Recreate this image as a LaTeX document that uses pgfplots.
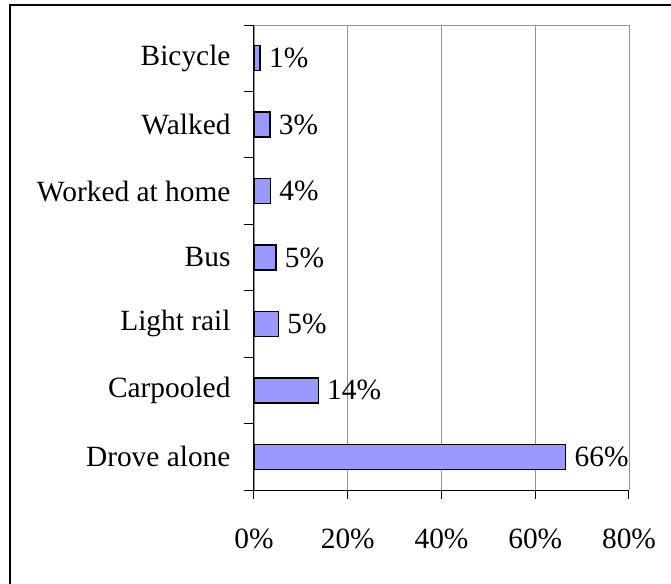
\documentclass[border=0pt]{standalone}
\usepackage{pgfplots}
\pgfplotsset{compat=1.18}
\usepackage{fontspec}
\setmainfont{Liberation Serif}
\definecolor{barfill}{RGB}{153,153,255}
\begin{document}
\begin{tikzpicture}[x=1bp,y=1bp]
\useasboundingbox (-254bp,-94bp) rectangle (417bp,490bp);
\draw[line width=1.2bp] (-244bp,-100bp) -- (-244bp,485bp) -- (430bp,485bp);
\begin{axis}[
  at={(0,0)}, anchor=south west,
  scale only axis, width=375bp, height=465bp,
  xbar, bar width=25bp,
  xmin=0, xmax=80, ymin=-0.5, ymax=6.5,
  axis x line*=bottom, axis y line*=left,
  axis line style={black, line width=1bp},
  xtick={0,20,40,60,80},
  xticklabels={0\%,20\%,40\%,60\%,80\%},
  xmajorgrids, grid style={gray!85, line width=0.8bp},
  ytick={0,...,6},
  yticklabels={Drove alone,Carpooled,Light rail,Bus,Worked at home,Walked,Bicycle},
  minor ytick={-0.5,0.5,...,6.5},
  tick align=outside,
  major tick length=9bp, minor tick length=10bp,
  y tick style={draw=none},
  minor y tick style={draw=black, line width=1bp},
  x tick style={black, line width=1bp},
  tick label style={font=\fontsize{29.5}{32}\selectfont},
  yticklabel style={xshift=-11bp},
  xticklabel style={yshift=-26bp},
  nodes near coords,
  point meta=explicit symbolic,
  every node near coord/.append style={anchor=west, xshift=5bp, font=\fontsize{29.5}{32}\selectfont, black},
  clip=false,
]
\draw[gray!85, line width=1bp] (rel axis cs:0,1) -- (rel axis cs:1,1);
\addplot[fill=barfill, draw=black, line width=1.3bp] coordinates {
  (66.5,0) [66\%]
  (13.7,1) [14\%]
  (5.2,2) [5\%]
  (4.7,3) [5\%]
  (3.5,4) [4\%]
  (3.4,5) [3\%]
  (1.3,6) [1\%]
};
\end{axis}
\end{tikzpicture}
\end{document}
